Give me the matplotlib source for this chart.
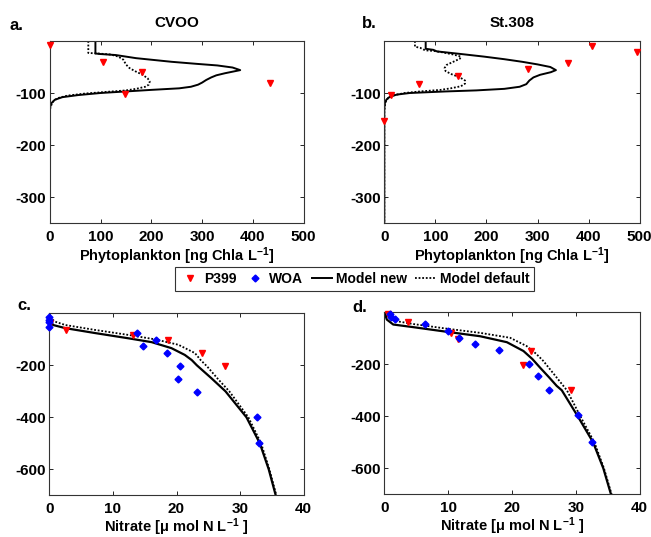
import matplotlib
matplotlib.use("Agg")
import matplotlib.pyplot as plt
from matplotlib.lines import Line2D

plt.rcParams["font.family"] = ["Liberation Sans", "DejaVu Sans"]
plt.rcParams["font.weight"] = "bold"
plt.rcParams["font.size"] = 10
plt.rcParams["axes.unicode_minus"] = False
plt.rcParams["mathtext.fontset"] = "custom"
plt.rcParams["mathtext.rm"] = "Liberation Sans:bold"
plt.rcParams["mathtext.default"] = "rm"

# ---------------- data ----------------
# a. CVOO phytoplankton
a_obs_x = [0, 105, 182, 148, 434]
a_obs_z = [-8, -40, -60, -101, -80]
a_new_z = [0, -24, -25, -27, -33, -40, -44, -47, -51, -56, -58, -62, -66, -70, -75,
           -80, -84, -88, -91, -94, -97, -100, -104, -108, -113, -120, -130, -350]
a_new_x = [90, 90, 99, 130, 170, 240, 290, 330, 360, 375, 365, 345, 328, 318, 308,
           300, 292, 278, 255, 200, 150, 100, 56, 25, 10, 3, 0, 0]
a_def_z = [0, -23, -24, -26, -30, -36, -45, -52, -58, -65, -72, -78, -84, -88, -92,
           -95, -98, -101, -105, -110, -118, -130, -145, -350]
a_def_x = [76, 76, 95, 120, 135, 145, 150, 157, 168, 183, 193, 197, 195, 188, 170,
           150, 110, 70, 35, 15, 5, 1, 0, 0]

# b. St.308 phytoplankton
b_obs_x = [495, 407, 359, 281, 144, 67, 13, 0]
b_obs_z = [-21, -10, -42, -53, -68, -82, -103, -153]
b_new_z = [0, -15, -17, -20, -25, -30, -35, -40, -45, -50, -56, -60, -65, -70, -76,
           -83, -88, -92, -95, -97, -100, -103, -107, -113, -120, -130, -350]
b_new_x = [81, 81, 96, 103, 150, 195, 235, 270, 300, 325, 336, 326, 305, 292, 284,
           278, 265, 235, 180, 120, 50, 25, 11, 4, 1, 0, 0]
b_def_z = [0, -11, -13, -18, -19, -22, -26, -30, -34, -40, -46, -52, -58, -64, -70,
           -76, -82, -87, -91, -94, -97, -100, -104, -110, -118, -135, -350]
b_def_x = [60, 60, 70, 80, 96, 115, 135, 150, 148, 135, 122, 118, 120, 132, 148,
           158, 158, 150, 130, 110, 70, 40, 20, 7, 2, 0, 0]

# c. CVOO nitrate
c_p399_x = [0.1, 2.7, 13.2, 18.7, 24.0, 27.6]
c_p399_z = [-38, -64, -83, -102, -153, -204]
c_woa_x = [0, 0, 0, 0, 13.8, 14.8, 16.7, 18.5, 20.5, 20.3, 23.2, 32.7, 33.0]
c_woa_z = [-13, -25, -32, -51, -76, -127, -102, -153, -201, -251, -302, -400, -500]
c_new_z = [0, -25, -45, -57, -76, -96, -111, -134, -160, -180, -200, -250, -300,
           -400, -500, -600, -700]
c_new_x = [0.0, 0.1, 0.6, 2.5, 7.2, 12.4, 16.1, 19.2, 21.3, 22.4, 23.2, 25.5, 27.7,
           31.0, 33.1, 34.5, 35.6]
c_def_z = [0, -20, -32, -45, -64, -83, -100, -121, -153, -180, -204, -255, -300,
           -400, -500, -600, -700]
c_def_x = [0.0, 0.3, 0.9, 2.5, 7.2, 12.4, 16.6, 20.3, 22.9, 23.8, 24.8, 26.6, 28.3,
           31.3, 33.3, 34.6, 35.7]

# d. St.308 nitrate
d_p399_x = [0.6, 3.7, 10.5, 11.6, 21.8, 23.0, 29.2]
d_p399_z = [-6, -38, -80, -102, -201, -149, -299]
d_woa_x = [0.9, 1.0, 1.7, 6.3, 9.9, 11.7, 14.2, 17.9, 22.7, 24.1, 25.8, 30.4, 32.5]
d_woa_z = [-6, -17, -27, -46, -70, -97, -121, -146, -197, -246, -297, -396, -497]
d_new_z = [0, -28, -47, -57, -75, -92, -115, -149, -180, -213, -250, -283, -300,
           -400, -500, -600, -700]
d_new_x = [0.0, 0.4, 1.4, 4.5, 9.8, 15.0, 19.2, 21.8, 23.2, 24.4, 25.8, 27.0, 27.8,
           30.3, 32.7, 34.3, 35.5]
d_def_z = [0, -15, -34, -45, -63, -79, -98, -130, -160, -187, -251, -300, -400,
           -500, -600, -700]
d_def_x = [0.0, 0.4, 1.9, 4.5, 9.8, 15.0, 19.7, 22.3, 23.8, 24.9, 27.0, 28.6, 30.7,
           32.9, 34.4, 35.6]

phyto_label = "Phytoplankton [ng Chla L$^{-1}$]"
nitrate_label = "Nitrate [\u03bc mol N L$^{-1}$ ]"

DOT = (0, (1, 1))

W, H = 651, 537
fig = plt.figure(figsize=(W / 100, H / 100), dpi=100)


def add_axes(left, top, right, bottom):
    return fig.add_axes([left / W, 1 - bottom / H, (right - left) / W, (bottom - top) / H])


def style(ax, xlim, ylim, xticks, yticks, xlabel):
    ax.set_xlim(*xlim)
    ax.set_ylim(*ylim)
    ax.set_xticks(xticks)
    ax.set_yticks(yticks)
    ax.tick_params(direction="in", length=3, width=0.6, top=True, right=True,
                   labelsize=11, colors="k")
    ax.tick_params(axis="x", pad=5)
    ax.tick_params(axis="y", pad=2.5)
    for lab in ax.get_xticklabels() + ax.get_yticklabels():
        lab.set_fontweight("bold")
    for s in ax.spines.values():
        s.set_color("#333333")
        s.set_linewidth(0.8)
    ax.set_xlabel(xlabel, fontsize=10.5, fontweight="bold", labelpad=1)


def phyto_panel(ax, obs_x, obs_z, new_x, new_z, def_x, def_z):
    ax.plot(new_x, new_z, color="k", lw=1.4)
    ax.plot(def_x, def_z, color="k", lw=1.3, linestyle=DOT)
    ax.plot(obs_x, obs_z, linestyle="none", marker="v", color="red", ms=5, clip_on=False,
            zorder=5)
    style(ax, (0, 500), (-350, 0), range(0, 501, 100), [-300, -200, -100], phyto_label)


def nitrate_panel(ax, p_x, p_z, w_x, w_z, new_x, new_z, def_x, def_z):
    ax.plot(new_x, new_z, color="k", lw=1.6)
    ax.plot(def_x, def_z, color="k", lw=1.3, linestyle=DOT)
    ax.plot(p_x, p_z, linestyle="none", marker="v", color="red", ms=5, clip_on=False,
            zorder=5)
    ax.plot(w_x, w_z, linestyle="none", marker="D", color="blue", ms=3.5, clip_on=False,
            zorder=5)
    style(ax, (0, 40), (-700, 0), range(0, 41, 10), [-600, -400, -200], nitrate_label)
    ax.xaxis.labelpad = 0


ax_a = add_axes(49.7, 41, 303.7, 223)
ax_b = add_axes(384.3, 41, 639.7, 223)
ax_c = add_axes(49.3, 313.3, 303.7, 495.3)
ax_d = add_axes(384.3, 312.3, 639.7, 494.3)

phyto_panel(ax_a, a_obs_x, a_obs_z, a_new_x, a_new_z, a_def_x, a_def_z)
phyto_panel(ax_b, b_obs_x, b_obs_z, b_new_x, b_new_z, b_def_x, b_def_z)
nitrate_panel(ax_c, c_p399_x, c_p399_z, c_woa_x, c_woa_z, c_new_x, c_new_z, c_def_x, c_def_z)
nitrate_panel(ax_d, d_p399_x, d_p399_z, d_woa_x, d_woa_z, d_new_x, d_new_z, d_def_x, d_def_z)

ax_a.set_title("CVOO", fontsize=11, fontweight="bold", pad=10)
ax_b.set_title("St.308", fontsize=11, fontweight="bold", pad=10)

fig.text(10 / W, 1 - 25 / H, "a.", fontsize=12, fontweight="bold", va="center")
fig.text(362 / W, 1 - 23 / H, "b.", fontsize=12, fontweight="bold", va="center")
fig.text(17 / W, 1 - 305 / H, "c.", fontsize=12, fontweight="bold", va="center")
fig.text(352 / W, 1 - 308 / H, "d.", fontsize=12, fontweight="bold", va="center")

handles = [
    Line2D([], [], linestyle="none", marker="v", color="red", ms=5),
    Line2D([], [], linestyle="none", marker="D", color="blue", ms=3.5),
    Line2D([], [], color="k", lw=1.4),
    Line2D([], [], color="k", lw=1.3, linestyle=DOT),
]
labels = ["P399", "WOA", "Model new", "Model default"]
leg = fig.legend(handles, labels, loc="center", bbox_to_anchor=(354.5 / W, 1 - 279 / H),
                 ncol=4, frameon=True, fancybox=False, framealpha=1, edgecolor="#333333",
                 handlelength=1.45, handletextpad=0.3, columnspacing=0.6, borderpad=0.35,
                 prop={"weight": "bold", "size": 10})
leg.get_frame().set_linewidth(0.8)

fig.savefig("out.png", dpi=100)
